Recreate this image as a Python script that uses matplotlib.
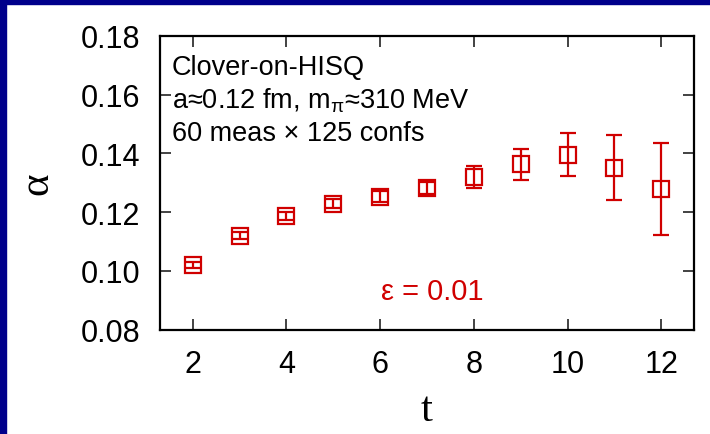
import matplotlib
matplotlib.use("Agg")
import matplotlib.pyplot as plt
import matplotlib.patches as mpatches

# data
t_vals = [2, 3, 4, 5, 6, 7, 8, 9, 10, 11, 12]
alpha_vals = [0.1021, 0.1120, 0.1187, 0.1229, 0.1253, 0.1281, 0.1320, 0.1362, 0.1395, 0.1351, 0.1279]
alpha_errs = [0.0010, 0.0012, 0.0014, 0.0016, 0.0018, 0.0021, 0.0037, 0.0052, 0.0073, 0.0110, 0.0157]
x_ticks = [2, 4, 6, 8, 10, 12]
y_ticks = [0.08, 0.10, 0.12, 0.14, 0.16, 0.18]

red = "#d00000"
navy = "#00008b"

plt.rcParams["font.family"] = ["Liberation Sans", "DejaVu Sans"]
plt.rcParams["mathtext.fontset"] = "custom"
plt.rcParams["mathtext.rm"] = "Liberation Sans"
plt.rcParams["mathtext.it"] = "Liberation Sans"

fig = plt.figure(figsize=(7.1, 4.35), dpi=100)
fig.patch.set_facecolor("white")

# navy frame on top and left edges
fig.patches.append(mpatches.Rectangle((0, 1 - 5 / 435), 1, 5 / 435,
                                      transform=fig.transFigure, color=navy, zorder=0))
fig.patches.append(mpatches.Rectangle((0, 0), 6 / 710, 1,
                                      transform=fig.transFigure, color=navy, zorder=0))

ax = fig.add_axes([160 / 710, 1 - 330.7 / 435, 534 / 710, 294 / 435])

ax.errorbar(t_vals, alpha_vals, yerr=alpha_errs, fmt="s", color=red,
            markerfacecolor="none", markeredgecolor=red, markersize=11.5,
            markeredgewidth=1.6, elinewidth=1.6, capsize=6, capthick=1.6, zorder=3)

ax.set_xlim(1.3, 12.7)
ax.set_ylim(0.08, 0.18)
ax.set_xticks(x_ticks)
ax.set_yticks(y_ticks)
ax.set_yticklabels([f"{v:.2f}" for v in y_ticks])

ax.tick_params(direction="in", length=8, width=1.2, top=True, right=True,
               labelsize=22, color="#222222")
ax.tick_params(axis="y", pad=14)
ax.tick_params(axis="x", pad=14)
for sp in ax.spines.values():
    sp.set_linewidth(1.6)

ax.set_xlabel("t", family=["Liberation Serif", "DejaVu Serif"], fontsize=31, labelpad=8)
ax.set_ylabel("α", family=["Liberation Serif", "DejaVu Serif"], fontsize=31, labelpad=18)

ax.text(0.022, 0.893, "Clover-on-HISQ", transform=ax.transAxes, fontsize=19.5,
        ha="left", va="center")
ax.text(0.022, 0.782, r"a≈0.12 fm, m$_\pi$≈310 MeV", transform=ax.transAxes, fontsize=19.5,
        ha="left", va="center")
ax.text(0.022, 0.669, "60 meas × 125 confs", transform=ax.transAxes, fontsize=19.5,
        ha="left", va="center")
ax.text(0.51, 0.13, "ε = 0.01", transform=ax.transAxes, fontsize=21,
        ha="center", va="center", color=red)

fig.savefig("out.png", dpi=100, facecolor=fig.get_facecolor())
